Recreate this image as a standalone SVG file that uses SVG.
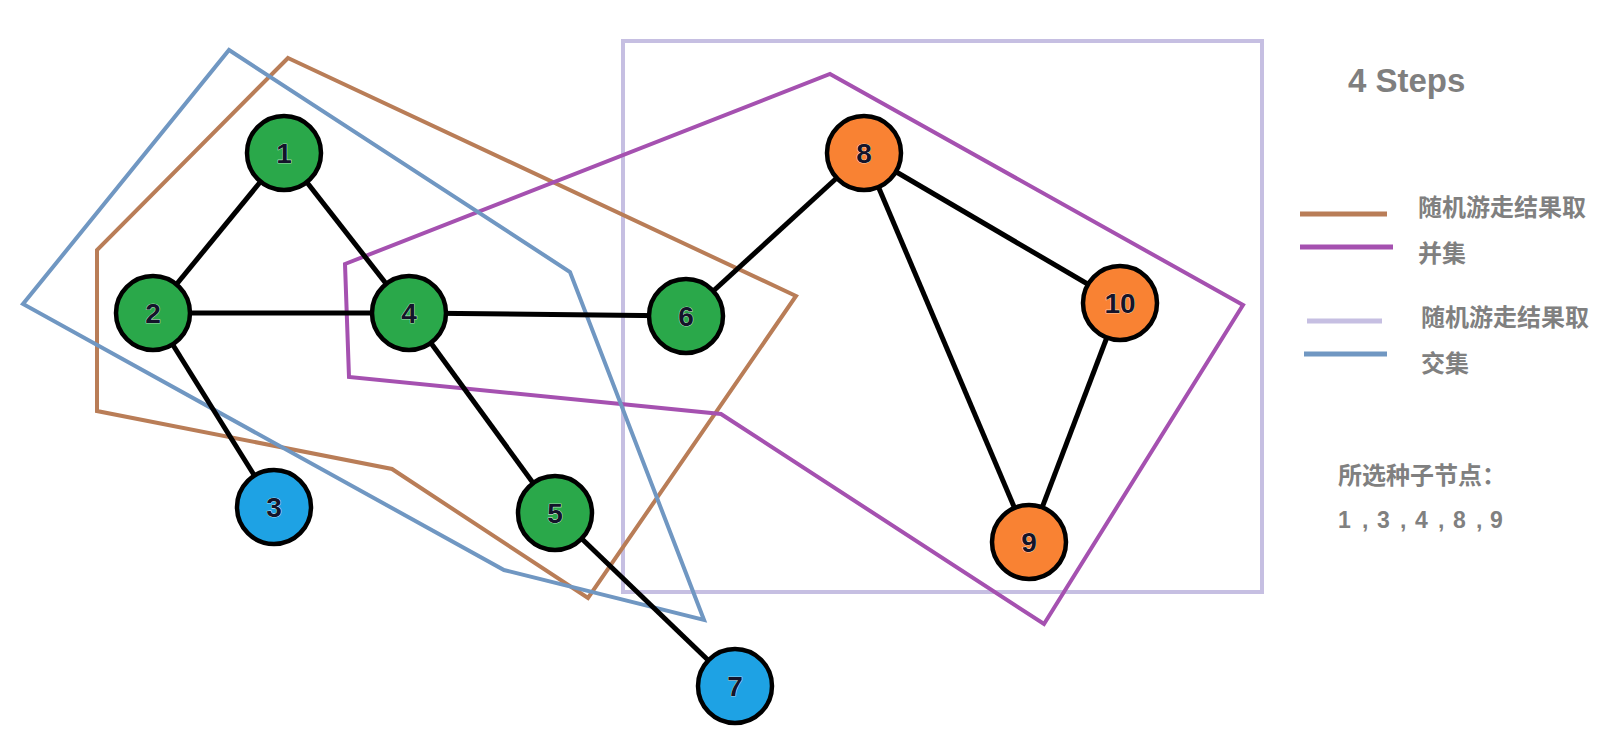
<svg xmlns="http://www.w3.org/2000/svg" width="1616" height="740" viewBox="0 0 1616 740">
<style>
.edge{stroke:#000;stroke-width:5;fill:none}
.node circle{stroke:#000;stroke-width:4.5}
.g{fill:#2aa84a}.b{fill:#1ea2e4}.o{fill:#f98233}
.lbl{font-family:"Liberation Sans",Arial,sans-serif;font-size:28px;font-weight:bold;fill:#14142a;text-anchor:middle;stroke:#fff;stroke-width:0.6;paint-order:stroke}
.hull{fill:none;stroke-width:4;stroke-linejoin:miter}
.leg{font-family:"Noto Sans CJK SC","Liberation Sans",sans-serif;font-size:24px;font-weight:bold;fill:#808080}
</style>
<rect width="1616" height="740" fill="#fff"/>
<g id="hulls">
<rect x="623" y="41" width="639" height="551" class="hull" stroke="#c6bfe2" stroke-width="4.5"/>
<polygon class="hull" stroke="#b97d57" points="288,58 796,296 588,598 392,469 97,411 97,250"/>
<polygon class="hull" stroke="#a551b0" stroke-width="4.5" points="830,74 1243,305 1044,624 721,414 349,377 345,264"/>
<polygon class="hull" stroke="#7097c2" points="229,50 570,272 704,620 504,570 23,304"/>
</g>
<g id="connectors">
<line class="edge" x1="284" y1="153" x2="153" y2="313"/>
<line class="edge" x1="284" y1="153" x2="409" y2="313"/>
<line class="edge" x1="153" y1="313" x2="409" y2="313"/>
<line class="edge" x1="153" y1="313" x2="274" y2="507"/>
<line class="edge" x1="409" y1="313" x2="686" y2="316"/>
<line class="edge" x1="409" y1="313" x2="555" y2="513"/>
<line class="edge" x1="555" y1="513" x2="735" y2="686"/>
<line class="edge" x1="686" y1="316" x2="864" y2="153"/>
<line class="edge" x1="864" y1="153" x2="1120" y2="303"/>
<line class="edge" x1="864" y1="153" x2="1029" y2="542"/>
<line class="edge" x1="1120" y1="303" x2="1029" y2="542"/>
</g>
<g id="n1" class="node"><circle cx="284" cy="153" r="37" class="g"/><text class="lbl" x="284" y="163">1</text></g>
<g id="n2" class="node"><circle cx="153" cy="313" r="37" class="g"/><text class="lbl" x="153" y="323">2</text></g>
<g id="n3" class="node"><circle cx="274" cy="507" r="37" class="b"/><text class="lbl" x="274" y="517">3</text></g>
<g id="n4" class="node"><circle cx="409" cy="313" r="37" class="g"/><text class="lbl" x="409" y="323">4</text></g>
<g id="n5" class="node"><circle cx="555" cy="513" r="37" class="g"/><text class="lbl" x="555" y="523">5</text></g>
<g id="n6" class="node"><circle cx="686" cy="316" r="37" class="g"/><text class="lbl" x="686" y="326">6</text></g>
<g id="n7" class="node"><circle cx="735" cy="686" r="37" class="b"/><text class="lbl" x="735" y="696">7</text></g>
<g id="n8" class="node"><circle cx="864" cy="153" r="37" class="o"/><text class="lbl" x="864" y="163">8</text></g>
<g id="n9" class="node"><circle cx="1029" cy="542" r="37" class="o"/><text class="lbl" x="1029" y="552">9</text></g>
<g id="n10" class="node"><circle cx="1120" cy="303" r="37" class="o"/><text class="lbl" x="1120" y="313">10</text></g>
<g id="legend">
<text x="1348" y="92" font-family="'Liberation Sans',Arial,sans-serif" font-size="33" font-weight="bold" fill="#7f7f7f">4 Steps</text>
<line x1="1300" y1="214" x2="1387" y2="214" stroke="#b97d57" stroke-width="5"/>
<line x1="1300" y1="247" x2="1393" y2="247" stroke="#a551b0" stroke-width="5"/>
<line x1="1307" y1="321" x2="1382" y2="321" stroke="#c6bfe2" stroke-width="5"/>
<line x1="1304" y1="354" x2="1387" y2="354" stroke="#7097c2" stroke-width="5"/>
<text class="leg" x="1418" y="216">随机游走结果取</text>
<text class="leg" x="1418" y="262">并集</text>
<text class="leg" x="1421" y="326">随机游走结果取</text>
<text class="leg" x="1421" y="372">交集</text>
<text class="leg" x="1338" y="484" font-size="23">所选种子节点：</text>
<text x="1338 1362 1377 1400 1415 1438 1453 1476 1490" y="528" font-family="'Liberation Sans',Arial,sans-serif" font-size="23" font-weight="bold" fill="#808080">1,3,4,8,9</text>
</g>
</svg>
